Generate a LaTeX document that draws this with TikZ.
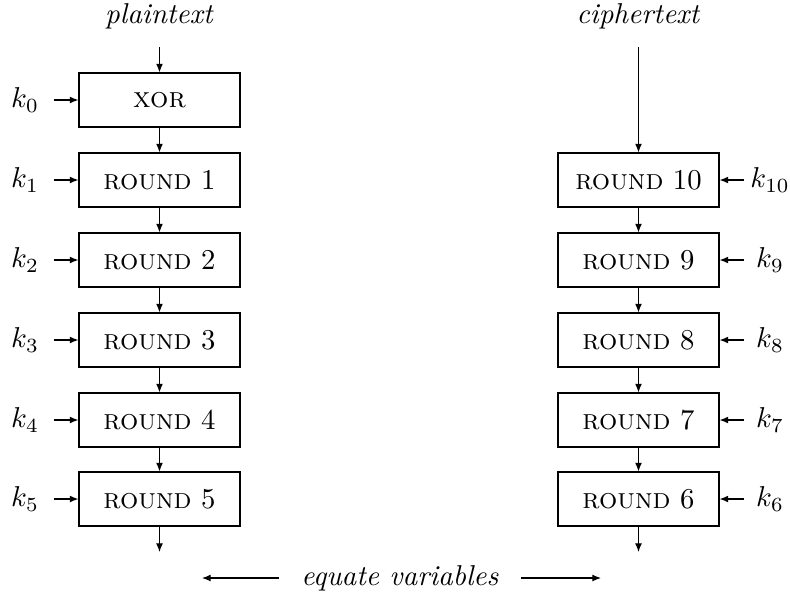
\documentclass[tikz,border=0pt]{standalone}
\usetikzlibrary{arrows.meta}
\tikzset{
  blk/.style={draw, line width=0.4pt, minimum width=161*0.348pt, minimum height=54*0.348pt, inner sep=0pt},
  arr/.style={-{Latex[length=3pt,width=2.4pt]}, line width=0.4pt},
  keyl/.style={inner sep=0pt, minimum width=56*0.348pt, minimum height=12pt},
  keyr/.style={inner sep=0pt, minimum width=50*0.348pt, minimum height=12pt},
  lbl/.style={inner sep=0pt}
}
\begin{document}
\begin{tikzpicture}[x=0.348pt, y=-0.348pt]
\useasboundingbox (0,0) rectangle (790,593);
% left column
\node[lbl] (pt) at (159.5,16) {\textit{plaintext}};
\coordinate (ptb) at (159.5,47);
\node[blk] (x0) at (159.5,100) {\textsc{xor}};
\node[blk] (l1) at (159.5,180) {\textsc{round} 1};
\node[blk] (l2) at (159.5,260) {\textsc{round} 2};
\node[blk] (l3) at (159.5,340) {\textsc{round} 3};
\node[blk] (l4) at (159.5,420) {\textsc{round} 4};
\node[blk] (l5) at (159.5,499) {\textsc{round} 5};
\coordinate (lend) at (159.5,552);
\draw[arr] (ptb) -- (x0.north);
\draw[arr] (x0) -- (l1);
\draw[arr] (l1) -- (l2);
\draw[arr] (l2) -- (l3);
\draw[arr] (l3) -- (l4);
\draw[arr] (l4) -- (l5);
\draw[arr] (l5) -- (lend);
\node[keyl] (k0) at (25,100) {$k_0$};
\node[keyl] (k1) at (25,180) {$k_1$};
\node[keyl] (k2) at (25,260) {$k_2$};
\node[keyl] (k3) at (25,340) {$k_3$};
\node[keyl] (k4) at (25,420) {$k_4$};
\node[keyl] (k5) at (25,499) {$k_5$};
\draw[arr] (k0) -- (x0);
\draw[arr] (k1) -- (l1);
\draw[arr] (k2) -- (l2);
\draw[arr] (k3) -- (l3);
\draw[arr] (k4) -- (l4);
\draw[arr] (k5) -- (l5);
% right column
\node[lbl] (ct) at (638.5,16) {\textit{ciphertext}};
\coordinate (ctb) at (638.5,47);
\node[blk] (r10) at (638.5,180) {\textsc{round} 10};
\node[blk] (r9) at (638.5,260) {\textsc{round} 9};
\node[blk] (r8) at (638.5,340) {\textsc{round} 8};
\node[blk] (r7) at (638.5,420) {\textsc{round} 7};
\node[blk] (r6) at (638.5,499) {\textsc{round} 6};
\coordinate (rend) at (638.5,552);
\draw[arr] (ctb) -- (r10.north);
\draw[arr] (r10) -- (r9);
\draw[arr] (r9) -- (r8);
\draw[arr] (r8) -- (r7);
\draw[arr] (r7) -- (r6);
\draw[arr] (r6) -- (rend);
\node[keyr] (k10) at (770,180) {$k_{10}$};
\node[keyr] (k9) at (770,260) {$k_9$};
\node[keyr] (k8) at (770,340) {$k_8$};
\node[keyr] (k7) at (770,420) {$k_7$};
\node[keyr] (k6) at (770,499) {$k_6$};
\draw[arr] (k10) -- (r10);
\draw[arr] (k9) -- (r9);
\draw[arr] (k8) -- (r8);
\draw[arr] (k7) -- (r7);
\draw[arr] (k6) -- (r6);
% equate
\node[inner xsep=22*0.348pt, inner ysep=0pt] (eq) at (400,578) {\textit{equate variables}};
\coordinate (eqL) at (202,578);
\coordinate (eqR) at (601,578);
\draw[arr] (eq.west) -- (eqL);
\draw[arr] (eq.east) -- (eqR);
\end{tikzpicture}
\end{document}
